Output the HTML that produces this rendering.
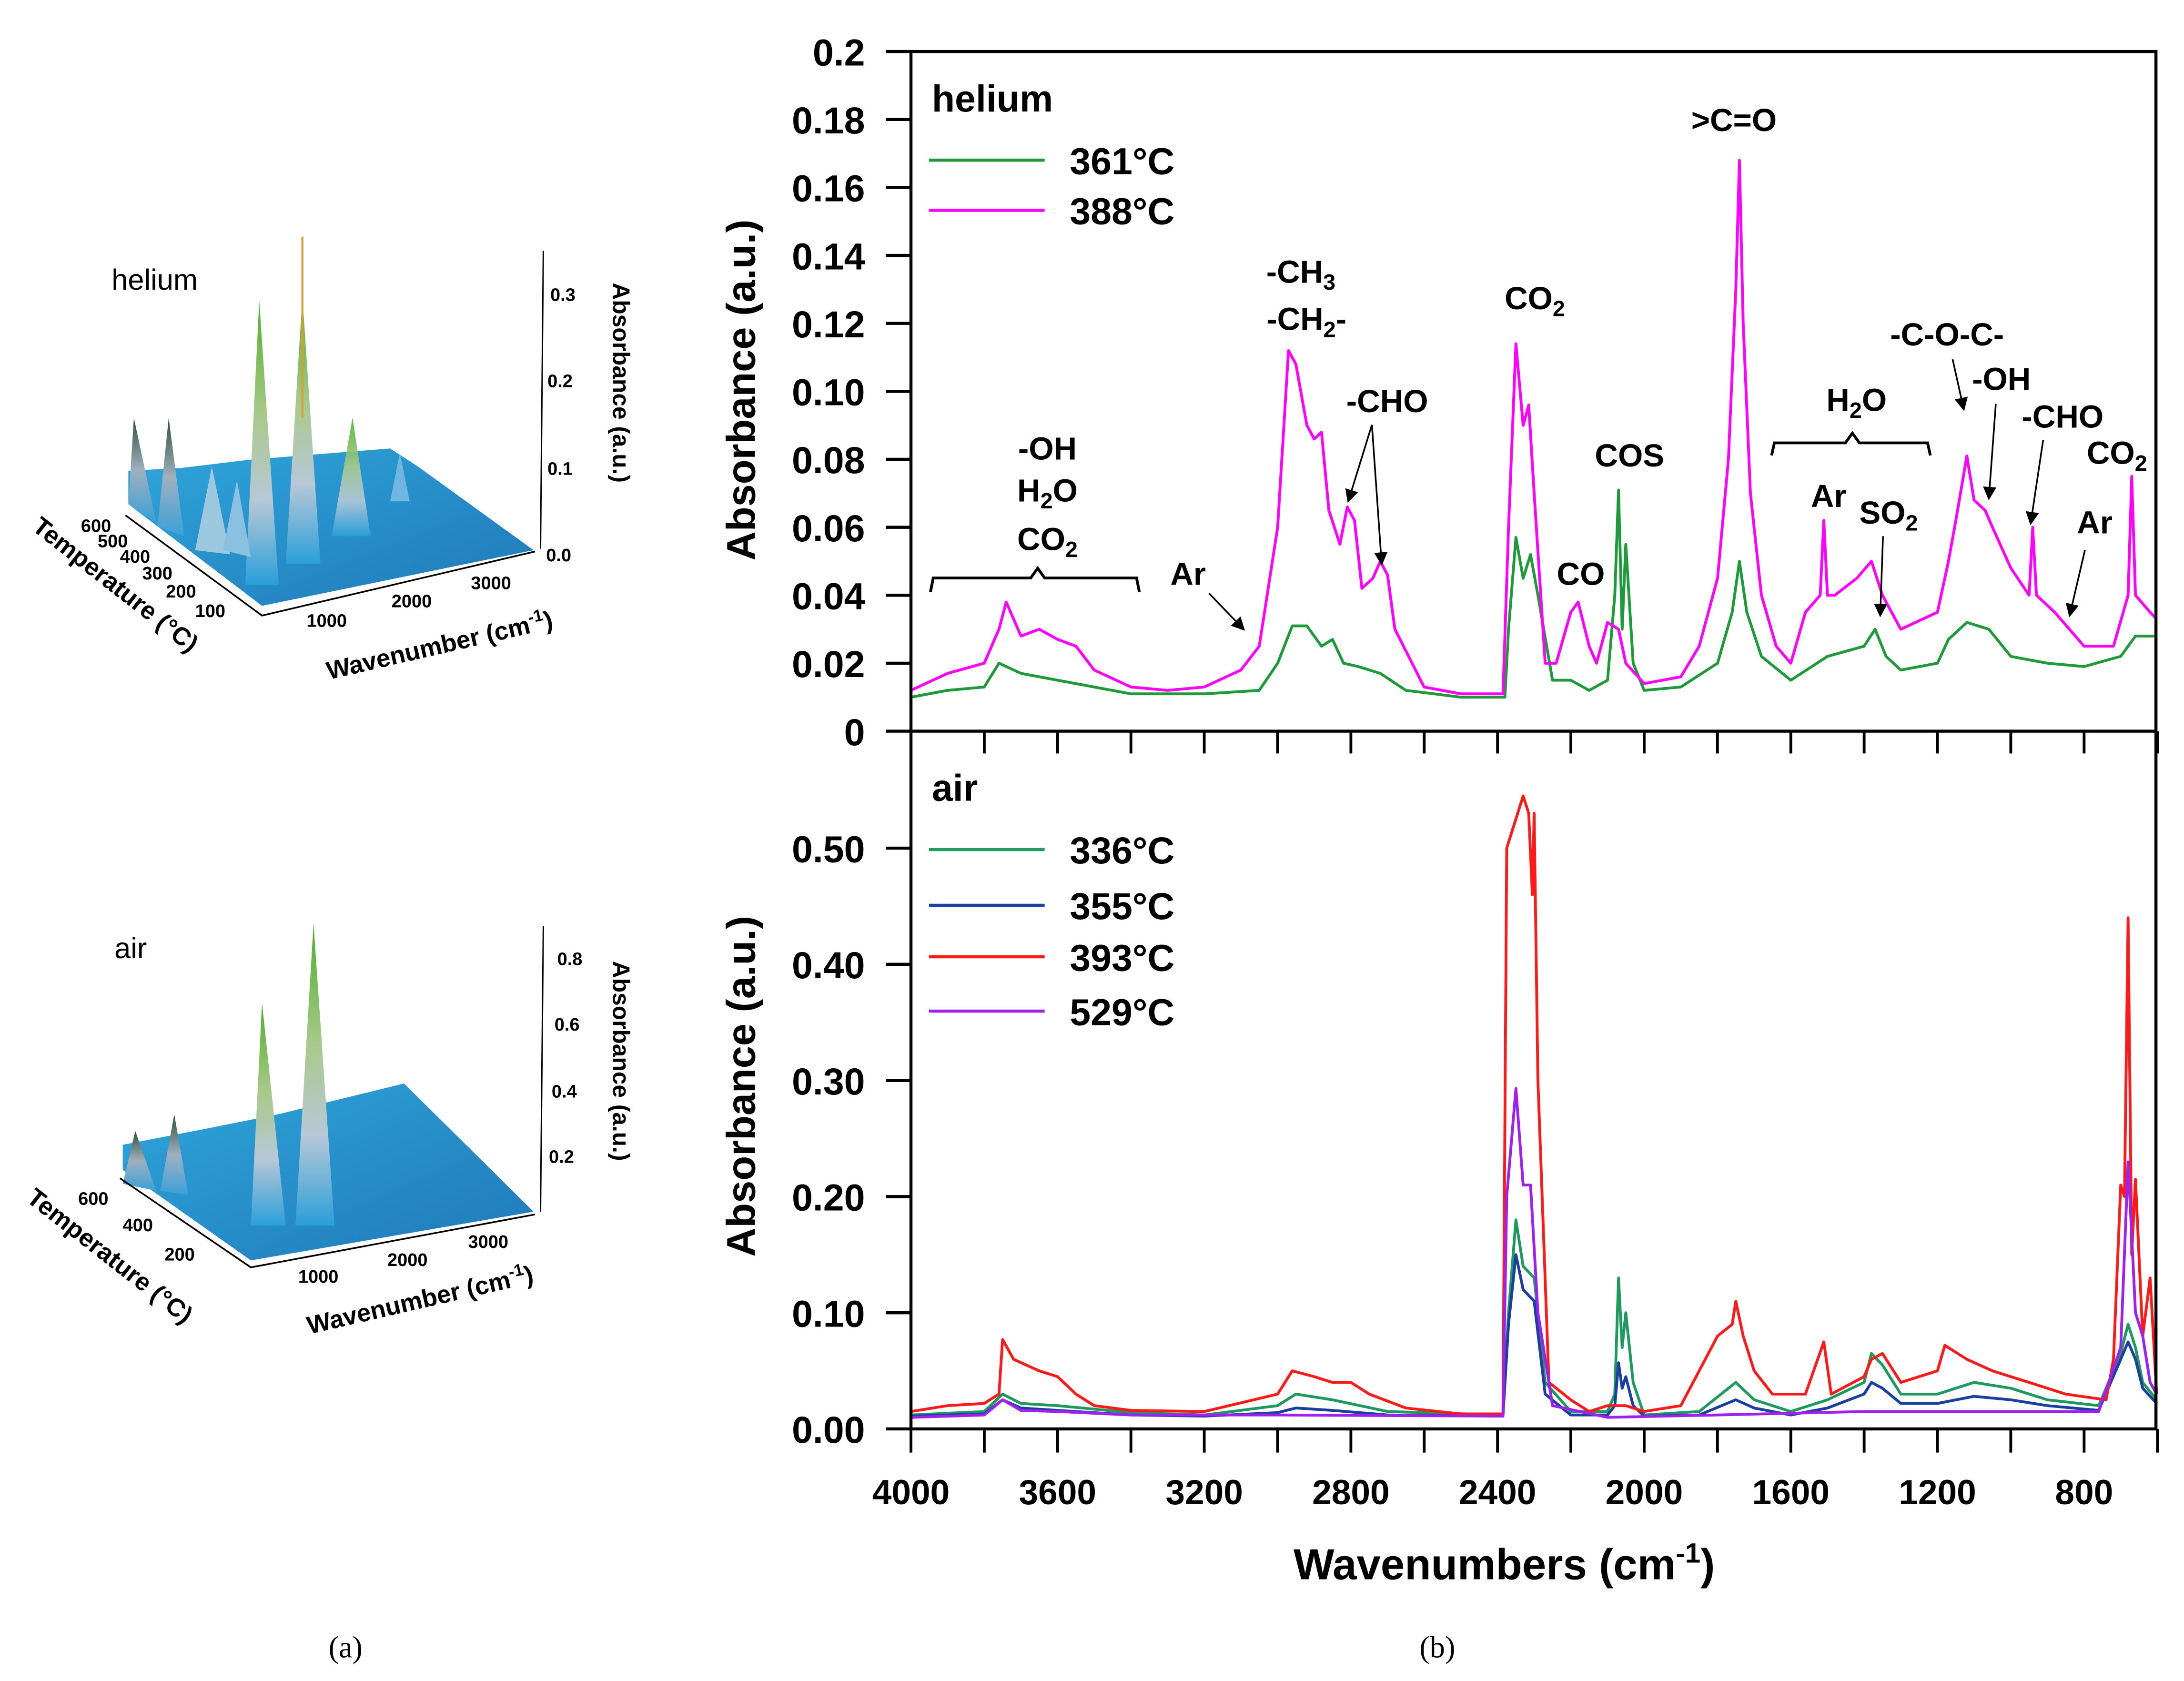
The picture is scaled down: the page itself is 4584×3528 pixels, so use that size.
<!DOCTYPE html>
<html><head><meta charset="utf-8"><style>
html,body{margin:0;padding:0;background:#fff}
svg{display:block}
text{font-family:"Liberation Sans",Arial,sans-serif;font-weight:bold;fill:#000}
</style></head><body>
<svg id="fig" width="4584" height="3528" viewBox="0 0 1568 1207" xmlns="http://www.w3.org/2000/svg">
<defs>
<linearGradient id="pk" x1="0" y1="0" x2="0" y2="1"><stop offset="0" stop-color="#4caf2a"/><stop offset="0.4" stop-color="#a9c98a"/><stop offset="0.7" stop-color="#b8c8d8"/><stop offset="1" stop-color="#2a9fd8"/></linearGradient>
<linearGradient id="pkd" x1="0" y1="0" x2="0" y2="1"><stop offset="0" stop-color="#2f4f3a"/><stop offset="0.5" stop-color="#9fb0c0"/><stop offset="1" stop-color="#3aa0d8"/></linearGradient>
<linearGradient id="surf" x1="0" y1="0" x2="1" y2="1"><stop offset="0" stop-color="#2fa6dc"/><stop offset="1" stop-color="#1f78b8"/></linearGradient>
<marker id="ah" markerWidth="8" markerHeight="8" refX="7" refY="4" orient="auto"><path d="M0,0 L8,4 L0,8 z" fill="#000"/></marker>
</defs>

<!-- 3D panel (a) helium -->
<g>
<polygon points="92,338 130,336 180,330 230,326 280,322 300,335 383,395 188,435 92,362" fill="url(#surf)"/>
<polygon points="176,420 186,216 200,420" fill="url(#pk)"/>
<polygon points="205,405 217,213 230,405" fill="url(#pk)"/>
<polygon points="238,385 253,300 266,385" fill="url(#pk)" opacity="0.9"/>
<polygon points="92,362 96,300 112,375" fill="url(#pkd)"/>
<polygon points="113,378 121,300 132,385" fill="url(#pkd)"/>
<polygon points="140,395 152,335 165,398" fill="#9cc8e0"/>
<polygon points="160,395 170,345 180,400" fill="#8ac0e0"/>
<polygon points="280,360 287,325 294,360" fill="#6fb6e0"/>
<line x1="217" y1="170" x2="217" y2="300" stroke="#d4a040" stroke-width="1.5"/>
<polyline points="390,180 388,394" fill="none" stroke="#000" stroke-width="1"/>
<polyline points="90,370 188,442 384,396" fill="none" stroke="#000" stroke-width="1.2"/>
<text x="80" y="208" font-size="21" style="font-weight:500">helium</text>
<g font-size="13">
<text x="395" y="216" font-weight="normal">0.3</text><text x="393" y="278" font-weight="normal">0.2</text><text x="393" y="341" font-weight="normal">0.1</text><text x="392" y="403" font-weight="normal">0.0</text>
<text x="58" y="382" font-weight="normal">600</text><text x="70" y="393" font-weight="normal">500</text><text x="86" y="404" font-weight="normal">400</text><text x="102" y="416" font-weight="normal">300</text><text x="119" y="429" font-weight="normal">200</text><text x="140" y="443" font-weight="normal">100</text>
<text x="220" y="450" font-weight="normal">1000</text><text x="281" y="436" font-weight="normal">2000</text><text x="338" y="423" font-weight="normal">3000</text>
</g>
<text x="0" y="0" font-size="17" transform="translate(440,203) rotate(90)">Absorbance (a.u.)</text>
<text x="0" y="0" font-size="18" transform="translate(22,380) rotate(38)">Temperature (°C)</text>
<text x="0" y="0" font-size="18" transform="translate(236,488) rotate(-13)">Wavenumber (cm<tspan font-size="12" dy="-7">-1</tspan><tspan dy="7">)</tspan></text>
</g>

<!-- 3D panel (a) air -->
<g>
<polygon points="88,822 150,810 200,800 290,778 383,870 180,905 88,840" fill="url(#surf)"/>
<polygon points="180,880 188,720 205,880" fill="url(#pk)"/>
<polygon points="212,880 225,663 240,880" fill="url(#pk)"/>
<polygon points="88,850 97,812 112,855" fill="url(#pkd)"/>
<polygon points="115,855 125,800 135,858" fill="url(#pkd)"/>
<polyline points="390,665 388,870" fill="none" stroke="#000" stroke-width="1"/>
<polyline points="86,846 180,910 384,872" fill="none" stroke="#000" stroke-width="1.2"/>
<text x="82" y="688" font-size="21" style="font-weight:500">air</text>
<g font-size="13">
<text x="400" y="693" font-weight="normal">0.8</text><text x="398" y="740" font-weight="normal">0.6</text><text x="396" y="788" font-weight="normal">0.4</text><text x="394" y="835" font-weight="normal">0.2</text>
<text x="56" y="865" font-weight="normal">600</text><text x="88" y="884" font-weight="normal">400</text><text x="118" y="905" font-weight="normal">200</text>
<text x="214" y="921" font-weight="normal">1000</text><text x="278" y="909" font-weight="normal">2000</text><text x="336" y="896" font-weight="normal">3000</text>
</g>
<text x="0" y="0" font-size="17" transform="translate(440,690) rotate(90)">Absorbance (a.u.)</text>
<text x="0" y="0" font-size="18" transform="translate(18,862) rotate(38)">Temperature (°C)</text>
<text x="0" y="0" font-size="18" transform="translate(222,958) rotate(-13)">Wavenumber (cm<tspan font-size="12" dy="-7">-1</tspan><tspan dy="7">)</tspan></text>
</g>

<text x="248" y="1190" font-size="22" text-anchor="middle" style="font-family:'Liberation Serif',serif;font-weight:normal">(a)</text>
<text x="1032" y="1190" font-size="22" text-anchor="middle" style="font-family:'Liberation Serif',serif;font-weight:normal">(b)</text>

<g id="charts"></g>

<rect x="654" y="37" width="894" height="989" fill="none" stroke="#000" stroke-width="2.2"/>
<line x1="654" y1="525" x2="1548" y2="525" stroke="#000" stroke-width="2.2"/>

<text x="669" y="80" font-size="27">helium</text>
<text x="669" y="575" font-size="27">air</text>
<text transform="translate(542,280) rotate(-90)" text-anchor="middle" font-size="29">Absorbance (a.u.)</text>
<text transform="translate(542,780) rotate(-90)" text-anchor="middle" font-size="29">Absorbance (a.u.)</text>
<text x="1080" y="1134" text-anchor="middle" font-size="31">Wavenumbers (cm<tspan font-size="20" dy="-12">-1</tspan><tspan dy="12">)</tspan></text>

<g font-size="23" text-anchor="middle">
<text x="752" y="330">-OH</text>
<text x="752" y="360">H<tspan font-size="16" dy="5">2</tspan><tspan dy="-5">O</tspan></text>
<text x="752" y="395">CO<tspan font-size="16" dy="5">2</tspan></text>
<path d="M668,425 L670,415 L740,415 L745,408 L750,415 L816,415 L818,425" fill="none" stroke="#000" stroke-width="2"/>
<text x="853" y="420">Ar</text>
<line x1="868" y1="426" x2="893" y2="452" stroke="#000" stroke-width="1.2" marker-end="url(#ah)"/>
<text x="934" y="203">-CH<tspan font-size="16" dy="5">3</tspan></text>
<text x="938" y="237">-CH<tspan font-size="16" dy="5">2</tspan><tspan dy="-5">-</tspan></text>
<text x="996" y="296">-CHO</text>
<line x1="985" y1="305" x2="968" y2="360" stroke="#000" stroke-width="1.2" marker-end="url(#ah)"/>
<line x1="985" y1="305" x2="992" y2="405" stroke="#000" stroke-width="1.2" marker-end="url(#ah)"/>
<text x="1102" y="222">CO<tspan font-size="16" dy="5">2</tspan></text>
<text x="1170" y="335">COS</text>
<text x="1135" y="420">CO</text>
<text x="1245" y="94">&gt;C=O</text>
<text x="1333" y="295">H<tspan font-size="16" dy="5">2</tspan><tspan dy="-5">O</tspan></text>
<path d="M1272,327 L1274,318 L1325,318 L1330,311 L1335,318 L1384,318 L1386,327" fill="none" stroke="#000" stroke-width="2"/>
<text x="1313" y="364">Ar</text>
<text x="1356" y="376">SO<tspan font-size="16" dy="5">2</tspan></text>
<line x1="1352" y1="385" x2="1350" y2="442" stroke="#000" stroke-width="1.2" marker-end="url(#ah)"/>
<text x="1398" y="248">-C-O-C-</text>
<line x1="1402" y1="258" x2="1410" y2="294" stroke="#000" stroke-width="1.2" marker-end="url(#ah)"/>
<text x="1437" y="280">-OH</text>
<line x1="1433" y1="290" x2="1428" y2="358" stroke="#000" stroke-width="1.2" marker-end="url(#ah)"/>
<text x="1481" y="307">-CHO</text>
<line x1="1467" y1="316" x2="1458" y2="376" stroke="#000" stroke-width="1.2" marker-end="url(#ah)"/>
<text x="1520" y="333">CO<tspan font-size="16" dy="5">2</tspan></text>
<text x="1504" y="383">Ar</text>
<line x1="1497" y1="395" x2="1486" y2="442" stroke="#000" stroke-width="1.2" marker-end="url(#ah)"/>
</g>
</svg>

<script>
const xTickLabels = [4000, 3600, 3200, 2800, 2400, 2000, 1600, 1200, 800];
const topYTicks = [0, 0.02, 0.04, 0.06, 0.08, 0.10, 0.12, 0.14, 0.16, 0.18, 0.2];
const topYLabels = ["0","0.02","0.04","0.06","0.08","0.10","0.12","0.14","0.16","0.18","0.2"];
const botYTicks = [0, 0.1, 0.2, 0.3, 0.4, 0.5];
const botYLabels = ["0.00","0.10","0.20","0.30","0.40","0.50"];

const he361W = [4000,3900,3800,3760,3700,3600,3500,3400,3200,3050,3000,2960,2920,2880,2850,2820,2780,2720,2650,2500,2380,2370,2350,2330,2310,2290,2250,2200,2150,2100,2080,2070,2060,2050,2030,2000,1900,1800,1760,1740,1720,1680,1600,1500,1400,1370,1340,1300,1200,1170,1120,1060,1000,950,900,800,700,660,602];
const he361V = [0.010,0.012,0.013,0.020,0.017,0.015,0.013,0.011,0.011,0.012,0.020,0.031,0.031,0.025,0.027,0.020,0.019,0.017,0.012,0.010,0.010,0.030,0.057,0.045,0.052,0.040,0.015,0.015,0.012,0.015,0.040,0.071,0.030,0.055,0.020,0.012,0.013,0.020,0.035,0.050,0.035,0.022,0.015,0.022,0.025,0.030,0.022,0.018,0.020,0.027,0.032,0.030,0.022,0.021,0.020,0.019,0.022,0.028,0.028];

const he388W = [4000,3900,3800,3760,3740,3700,3650,3600,3550,3500,3400,3300,3200,3100,3050,3000,2970,2950,2920,2900,2880,2860,2830,2810,2790,2770,2740,2720,2700,2680,2600,2500,2385,2370,2350,2330,2315,2300,2270,2240,2200,2180,2150,2130,2100,2070,2050,2000,1900,1850,1800,1770,1750,1740,1730,1710,1680,1640,1600,1560,1520,1510,1500,1480,1420,1380,1350,1300,1200,1170,1150,1120,1100,1070,1050,1000,950,940,930,880,800,720,680,670,660,620,602];
const he388V = [0.012,0.017,0.020,0.030,0.038,0.028,0.030,0.027,0.025,0.018,0.013,0.012,0.013,0.018,0.025,0.060,0.112,0.108,0.090,0.086,0.088,0.065,0.055,0.066,0.062,0.042,0.045,0.050,0.046,0.030,0.013,0.011,0.011,0.060,0.114,0.090,0.096,0.070,0.020,0.020,0.035,0.038,0.025,0.020,0.032,0.030,0.020,0.014,0.016,0.025,0.045,0.080,0.130,0.168,0.120,0.070,0.040,0.025,0.020,0.035,0.040,0.062,0.040,0.040,0.045,0.050,0.040,0.030,0.035,0.050,0.062,0.081,0.068,0.065,0.060,0.048,0.040,0.060,0.040,0.035,0.025,0.025,0.040,0.075,0.040,0.035,0.033];

const air393W = [4000,3900,3800,3760,3750,3720,3650,3600,3550,3500,3400,3200,3000,2960,2900,2850,2800,2750,2650,2500,2385,2375,2330,2315,2305,2300,2290,2260,2200,2150,2100,2050,2000,1900,1800,1760,1750,1730,1700,1650,1560,1510,1490,1400,1380,1350,1300,1200,1180,1120,1050,1000,950,850,740,720,700,690,680,670,660,640,620,602];
const air393V = [0.015,0.020,0.022,0.030,0.077,0.060,0.050,0.045,0.030,0.020,0.016,0.015,0.030,0.050,0.045,0.040,0.040,0.030,0.018,0.013,0.013,0.500,0.545,0.530,0.460,0.530,0.300,0.040,0.025,0.015,0.020,0.020,0.015,0.020,0.080,0.090,0.110,0.080,0.050,0.030,0.030,0.075,0.030,0.045,0.060,0.065,0.040,0.050,0.072,0.060,0.050,0.045,0.040,0.030,0.025,0.060,0.210,0.200,0.440,0.150,0.215,0.080,0.130,0.030];

const air336W = [4000,3800,3750,3700,3600,3400,3200,3000,2950,2850,2700,2385,2370,2350,2330,2300,2270,2200,2100,2080,2070,2060,2050,2030,2000,1850,1750,1700,1600,1500,1400,1380,1350,1300,1200,1100,1000,900,760,700,680,660,640,602];
const air336V = [0.012,0.015,0.030,0.022,0.020,0.014,0.012,0.020,0.030,0.025,0.015,0.012,0.100,0.180,0.140,0.130,0.040,0.015,0.015,0.030,0.130,0.070,0.100,0.040,0.012,0.015,0.040,0.025,0.015,0.025,0.040,0.065,0.055,0.030,0.030,0.040,0.035,0.025,0.020,0.065,0.090,0.070,0.040,0.025];

const air355W = [4000,3800,3750,3700,3600,3400,3200,3000,2950,2850,2700,2385,2370,2350,2330,2300,2270,2200,2100,2080,2070,2060,2050,2030,2000,1850,1750,1700,1600,1500,1400,1380,1350,1300,1200,1100,1000,900,760,700,680,660,640,602];
const air355V = [0.011,0.013,0.025,0.018,0.016,0.012,0.011,0.014,0.018,0.016,0.012,0.011,0.090,0.150,0.120,0.110,0.030,0.012,0.012,0.020,0.057,0.035,0.045,0.020,0.011,0.012,0.025,0.018,0.012,0.018,0.030,0.040,0.035,0.022,0.022,0.028,0.025,0.020,0.016,0.060,0.075,0.060,0.035,0.022];

const air529W = [4000,3800,3750,3700,3600,3400,3000,2385,2375,2350,2330,2310,2290,2250,2100,1800,1400,1000,760,700,680,660,640,620,602];
const air529V = [0.010,0.012,0.025,0.016,0.015,0.012,0.012,0.011,0.200,0.293,0.210,0.210,0.100,0.020,0.010,0.012,0.015,0.015,0.015,0.070,0.230,0.100,0.080,0.040,0.030];

const heSeries = [["361°C", "#1f9a3a", he361W, he361V], ["388°C", "#ff00ff", he388W, he388V]];
const airSeries = [["336°C", "#1e9a5e", air336W, air336V], ["355°C", "#1a3fa0", air355W, air355V], ["393°C", "#ff1a1a", air393W, air393V], ["529°C", "#a020f0", air529W, air529V]];

const NS = "http://www.w3.org/2000/svg";
const g = document.getElementById("charts");
function X(w) { return 654 + (4000 - w) / 400 * 105.3; }
function YT(v) { return 525 - v * 2440; }
function YB(v) { return 1026 - v * 834; }
function mk(tag, attrs) { const e = document.createElementNS(NS, tag); for (const k in attrs) e.setAttribute(k, attrs[k]); g.appendChild(e); return e; }

for (let w = 4000; w >= 600; w -= 200) {
  const t1 = mk("line", {x1: X(w), x2: X(w), y1: 1026, y2: 1043, stroke: "#000", "stroke-width": 2});
  
  
  const t2 = mk("line", {x1: X(w), x2: X(w), y1: 525, y2: 541, stroke: "#000", "stroke-width": 2});
  
  
}
xTickLabels.forEach(w => {
  const t = mk("text", {x: X(w), y: 1080, "text-anchor": "middle", "font-size": 25});
  t.textContent = w;
  
  
});
topYTicks.forEach((v, i) => {
  const l = mk("line", {x1: 636, x2: 654, y1: YT(v), y2: YT(v), stroke: "#000", "stroke-width": 2.2});
  
  
  const t = mk("text", {x: 621, y: YT(v) + 10, "text-anchor": "end", "font-size": 27});
  t.textContent = topYLabels[i];
  
  
});
botYTicks.forEach((v, i) => {
  const l = mk("line", {x1: 636, x2: 654, y1: YB(v), y2: YB(v), stroke: "#000", "stroke-width": 2.2});
  
  
  const t = mk("text", {x: 621, y: YB(v) + 10, "text-anchor": "end", "font-size": 27});
  t.textContent = botYLabels[i];
  
  
});
function drawSeries(s, Y, legY) {
  const pts = s[2].map((w, i) => X(w).toFixed(1) + "," + Y(s[3][i]).toFixed(1)).join(" ");
  const p = mk("polyline", {points: pts, fill: "none", stroke: s[1], "stroke-width": 2, "stroke-linejoin": "round"});
  
  
  const l = mk("line", {x1: 667, x2: 750, y1: legY, y2: legY, stroke: s[1], "stroke-width": 2.2});
  
  
  const t = mk("text", {x: 768, y: legY + 10, "font-size": 27});
  t.textContent = s[0];
  
  
}
const heLeg = [115, 151];
heSeries.forEach((s, i) => drawSeries(s, YT, heLeg[i]));
const airLeg = [610, 650, 687, 726];
airSeries.forEach((s, i) => drawSeries(s, YB, airLeg[i]));
</script>
</body></html>
